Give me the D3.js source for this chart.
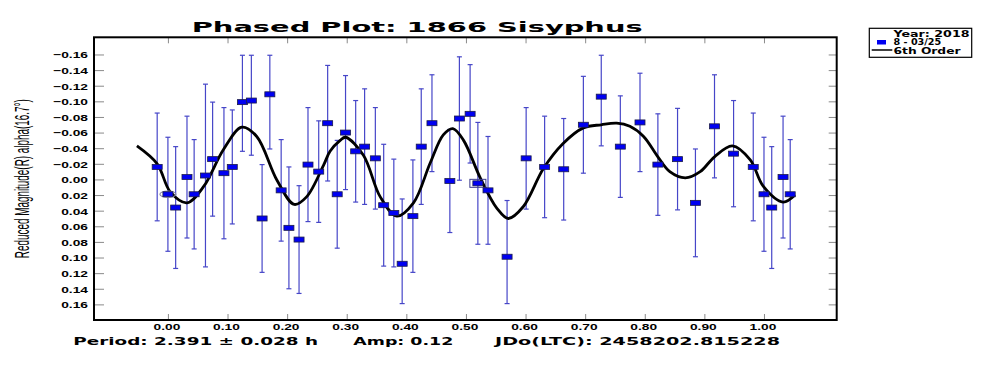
<!DOCTYPE html>
<html>
<head>
<meta charset="utf-8">
<script src="https://cdn.jsdelivr.net/npm/d3@7"></script>
<style>
  body { margin: 0; background: #fff; }
  svg { display: block; }
</style>
</head>
<body>
<div id="chart"></div>
<script>
// Observations: phase, reduced magnitude, error
const phase = [0.000, 0.013, 0.032, 0.044, 0.063, 0.075, 0.094, 0.108, 0.125, 0.140,
               0.158, 0.171, 0.190, 0.203, 0.220, 0.235, 0.253, 0.268, 0.284, 0.298,
               0.315, 0.330, 0.348, 0.362, 0.379, 0.393, 0.411, 0.425, 0.443, 0.473,
               0.489, 0.507, 0.520, 0.537, 0.569, 0.601, 0.632, 0.664, 0.697, 0.727,
               0.759, 0.792, 0.822, 0.855, 0.885, 0.917, 0.949, 0.982];
const mag = [0.019, 0.036, -0.003, 0.019, -0.005, -0.026, -0.008, -0.016, -0.099, -0.101,
             0.050, -0.109, 0.014, 0.062, 0.077, -0.019, -0.010, -0.072, 0.019, -0.060,
             -0.036, -0.042, -0.027, 0.033, 0.043, 0.108, 0.047, -0.042, -0.072, 0.002,
             -0.078, -0.084, 0.005, 0.014, 0.099, -0.027, -0.016, -0.013, -0.070, -0.106,
             -0.042, -0.073, -0.019, -0.026, 0.030, -0.068, -0.033, -0.016];
const magErr = [0.073, 0.078, 0.078, 0.070, 0.117, 0.073, 0.084, 0.073, 0.063, 0.070,
                0.069, 0.070, 0.065, 0.078, 0.069, 0.073, 0.065, 0.074, 0.069, 0.073,
                0.065, 0.074, 0.065, 0.078, 0.069, 0.083, 0.072, 0.074, 0.062, 0.066,
                0.079, 0.063, 0.078, 0.069, 0.072, 0.065, 0.065, 0.065, 0.062, 0.063,
                0.065, 0.063, 0.065, 0.065, 0.069, 0.066, 0.068, 0.069];

// 6th order fit
const fitPhase = [-0.052, -0.018, 0.004, 0.032, 0.060, 0.093, 0.124, 0.149, 0.183, 0.212,
                  0.233, 0.261, 0.272, 0.289, 0.298, 0.328, 0.356, 0.384, 0.412, 0.440,
                  0.462, 0.478, 0.496, 0.524, 0.552, 0.571, 0.596, 0.630, 0.663, 0.697,
                  0.727, 0.753, 0.775, 0.798, 0.822, 0.842, 0.868, 0.893, 0.917, 0.947,
                  0.977, 0.999, 1.032, 1.052];
const fitMag = [-0.043, -0.020, 0.016, 0.030, 0.009, -0.038, -0.067, -0.055, 0.001, 0.032,
                0.022, -0.018, -0.036, -0.050, -0.054, -0.031, 0.022, 0.047, 0.030, -0.021,
                -0.057, -0.065, -0.050, -0.002, 0.037, 0.050, 0.035, -0.014, -0.046, -0.066,
                -0.070, -0.072, -0.068, -0.055, -0.029, -0.010, -0.002, -0.010, -0.029, -0.043,
                -0.025, 0.009, 0.029, 0.020];

const xTicks = [0, 0.1, 0.2, 0.3, 0.4, 0.5, 0.6, 0.7, 0.8, 0.9, 1.0];
const yTicks = [-0.16, -0.14, -0.12, -0.10, -0.08, -0.06, -0.04, -0.02, 0,
                0.02, 0.04, 0.06, 0.08, 0.10, 0.12, 0.14, 0.16];

const titleText = "Phased Plot: 1866 Sisyphus";
const yLabel = "Reduced Magnitude(R) alpha(16.7\u00B0)";
const footer = ["Period: 2.391 \u00B1 0.028 h", "Amp: 0.12", "JDo(LTC): 2458202.815228"];
const legendRows = ["Year: 2018", "8 - 03/25", "6th Order"];
const circledPhase = 0.000;   // ellipse marker
const boxedPhase = 0.520;     // box marker

// Setup SVG
const width = 986, height = 366;
const frame = { left: 94, right: 836.7, top: 37.3, bottom: 320 };
const svg = d3.select("#chart").append("svg")
  .attr("width", width)
  .attr("height", height)
  .style("font-family", "'DejaVu Sans', sans-serif");

const x = d3.scaleLinear().domain([-0.124, 1.122]).range([frame.left, frame.right]);
const y = d3.scaleLinear().domain([-0.182, 0.180]).range([frame.top, frame.bottom]);
const fmt = d3.format(".2f");
const tickColor = "#8a8a8a";

// wrap points near the phase edges
const points = [];
phase.forEach((p, i) => {
  [-1, 0, 1].forEach(k => {
    const px = p + k;
    if (px >= -0.025 && px <= 1.05) points.push({ p: px, m: mag[i], e: magErr[i], base: p, k });
  });
});

// Axes (ticks on all four sides, pointing inward)
const left = svg.append("g")
  .attr("transform", `translate(${frame.left},0)`)
  .call(d3.axisLeft(y).tickValues(yTicks).tickSize(-10).tickFormat(fmt));
left.selectAll("text")
  .attr("x", null).attr("dy", "0.36em")
  .attr("transform", "translate(-6,0) scale(1.45,1)")
  .style("font-size", "9.5px").style("font-weight", "bold").attr("fill", "#000");

svg.append("g")
  .attr("transform", `translate(${frame.right},0)`)
  .call(d3.axisRight(y).tickValues(yTicks).tickSize(-8).tickFormat(""));

svg.append("g")
  .attr("transform", `translate(0,${frame.top})`)
  .call(d3.axisTop(x).tickValues(xTicks).tickSize(-6).tickFormat(""));

const bottom = svg.append("g")
  .attr("transform", `translate(0,${frame.bottom})`)
  .call(d3.axisBottom(x).tickValues(xTicks).tickSize(-6).tickFormat(fmt));
bottom.selectAll("text")
  .attr("y", null).attr("dy", null)
  .attr("transform", "translate(-1.5,10.3) scale(1.45,1)")
  .style("font-size", "9.5px").style("font-weight", "bold").attr("fill", "#000");

svg.selectAll(".domain").remove();
svg.selectAll(".tick line").attr("stroke", tickColor);

// Error bars
const clip = v => Math.max(-0.159, Math.min(0.159, v));
const bars = svg.append("g").attr("stroke", "#4646c8").attr("stroke-width", 1.2);
points.forEach(d => {
  const y0 = y(clip(d.m - d.e)), y1 = y(clip(d.m + d.e)), cx = x(d.p);
  bars.append("line").attr("x1", cx).attr("x2", cx).attr("y1", y0).attr("y2", y1);
  bars.append("line").attr("x1", cx - 2.5).attr("x2", cx + 2.5).attr("y1", y0).attr("y2", y0);
  bars.append("line").attr("x1", cx - 2.5).attr("x2", cx + 2.5).attr("y1", y1).attr("y2", y1);
});

// Fit curve
const line = d3.line()
  .x((d, i) => x(fitPhase[i]))
  .y(d => y(d))
  .curve(d3.curveCatmullRom.alpha(0.5));

svg.append("path")
  .datum(fitMag)
  .attr("fill", "none")
  .attr("stroke", "#000")
  .attr("stroke-width", 2.8)
  .attr("d", line);

// Highlight markers
points.filter(d => d.base === circledPhase && d.k === 0).forEach(d => {
  svg.append("ellipse")
    .attr("cx", x(d.p)).attr("cy", y(d.m))
    .attr("rx", 8).attr("ry", 3.2)
    .attr("fill", "none").attr("stroke", "#8c8ca8").attr("stroke-width", 1.2);
});
points.filter(d => d.base === boxedPhase).forEach(d => {
  svg.append("rect")
    .attr("x", x(d.p) - 8).attr("y", y(d.m) - 4)
    .attr("width", 16).attr("height", 8)
    .attr("fill", "none").attr("stroke", "#3c3c90").attr("stroke-width", 1);
});

// Points
svg.append("g")
  .selectAll("rect")
  .data(points)
  .join("rect")
  .attr("x", d => x(d.p) - 5)
  .attr("y", d => y(d.m) - 2.5)
  .attr("width", 10)
  .attr("height", 5)
  .attr("fill", "#0000f2")
  .attr("stroke", "#1c1c48")
  .attr("stroke-width", 0.8);

// Frame
svg.append("rect")
  .attr("x", frame.left).attr("y", frame.top)
  .attr("width", frame.right - frame.left)
  .attr("height", frame.bottom - frame.top)
  .attr("fill", "none").attr("stroke", "#000").attr("stroke-width", 2);

// Title
svg.append("text")
  .attr("x", 191.7).attr("y", 31.7)
  .attr("textLength", 451).attr("lengthAdjust", "spacingAndGlyphs")
  .style("font-size", "14px").style("font-weight", "bold")
  .text(titleText);

// Y label
svg.append("text")
  .attr("transform", "translate(29,178.7) scale(2,1) rotate(-90)")
  .attr("text-anchor", "middle")
  .attr("textLength", 159).attr("lengthAdjust", "spacingAndGlyphs")
  .style("font-family", "'Liberation Sans', Arial, sans-serif")
  .style("font-size", "9.7px")
  .text(yLabel);

// Footer
const footerX = [73.3, 353.3, 495];
const footerW = [244.7, 100, 285];
footer.forEach((t, i) => {
  svg.append("text")
    .attr("x", footerX[i]).attr("y", 344.7)
    .attr("textLength", footerW[i]).attr("lengthAdjust", "spacingAndGlyphs")
    .style("font-size", "11px").style("font-weight", "bold")
    .text(t);
});

// Legend
const lg = svg.append("g");
lg.append("rect")
  .attr("x", 869.3).attr("y", 28.3).attr("width", 102.4).attr("height", 29)
  .attr("fill", "#fff").attr("stroke", "#000").attr("stroke-width", 1.2);
const legendY = [36.7, 45, 53.5];
const legendW = [76, 47.7, 67];
legendRows.forEach((t, i) => {
  lg.append("text")
    .attr("x", 893.5).attr("y", legendY[i])
    .attr("textLength", legendW[i]).attr("lengthAdjust", "spacingAndGlyphs")
    .style("font-size", "8.5px").style("font-weight", "bold")
    .text(t);
});
lg.append("rect")
  .attr("x", 877).attr("y", 40).attr("width", 9).attr("height", 4.5)
  .attr("fill", "#0000f2");
lg.append("line")
  .attr("x1", 871.7).attr("x2", 892.3).attr("y1", 50).attr("y2", 50)
  .attr("stroke", "#000").attr("stroke-width", 1.5);
</script>
</body>
</html>
